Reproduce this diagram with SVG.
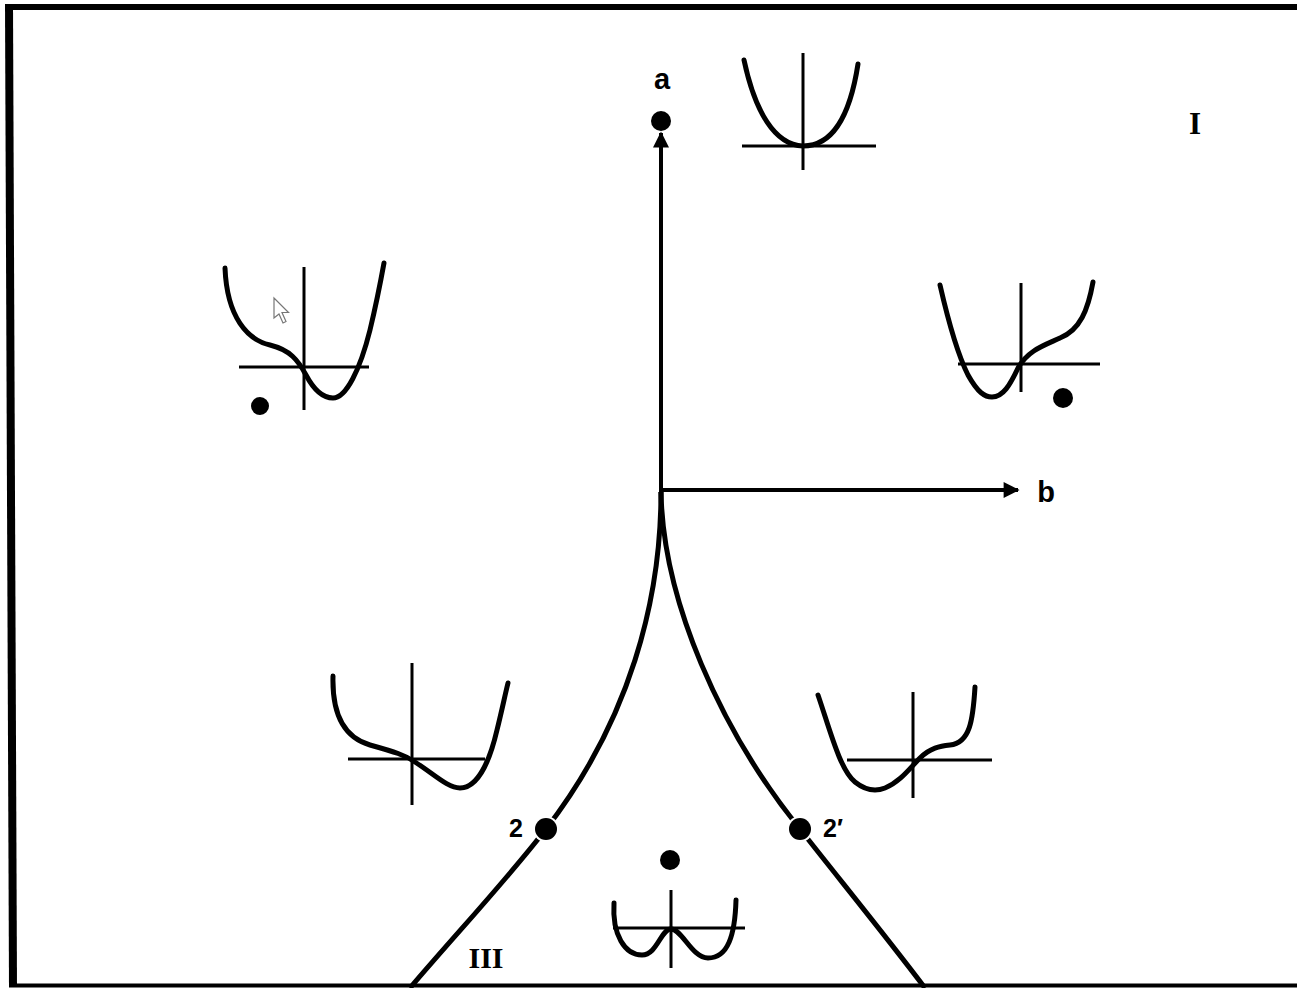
<svg xmlns="http://www.w3.org/2000/svg" width="1297" height="988" viewBox="0 0 1297 988">
<defs>
<style>
.ax{stroke:#000;stroke-width:3;fill:none;stroke-linecap:butt}
.cv{stroke:#000;stroke-width:5;fill:none;stroke-linecap:round;stroke-linejoin:round}
.main{stroke:#000;stroke-width:4;fill:none}
.cusp{stroke:#000;stroke-width:5;fill:none}
.dot{fill:#000}
.lbl{font-family:"Liberation Sans",Arial,sans-serif;font-weight:bold;fill:#000}
.rom{font-family:"Liberation Serif","Times New Roman",serif;font-weight:bold;fill:#000}
</style>
<marker id="arr" viewBox="0 0 10 10" refX="9" refY="5" markerWidth="4.2" markerHeight="4" orient="auto" markerUnits="strokeWidth">
<path d="M0,0 L10,5 L0,10 Z" fill="#000"/>
</marker>
</defs>
<rect width="1297" height="988" fill="#fff"/>
<g id="frame" fill="none" stroke="#000">
<line x1="9" y1="4" x2="13" y2="987" stroke-width="8"/>
<line x1="5" y1="7" x2="1297" y2="7" stroke-width="6"/>
<line x1="9" y1="985.5" x2="1297" y2="985.5" stroke-width="4"/>
</g>
<g id="connectors">
<line class="main" x1="661" y1="492" x2="661" y2="133" marker-end="url(#arr)"/>
<line class="main" x1="659" y1="490" x2="1018" y2="490" marker-end="url(#arr)"/>
<path id="cusp-left" class="cusp" d="M661,492 C661,600 630,720 546,829 C505,882 455,935 410,988"/>
<path id="cusp-right" class="cusp" d="M661,492 C663,600 720,730 800,829 C840,880 885,935 925,988"/>
</g>
<g id="node-a">
<circle class="dot" cx="661" cy="121" r="10"/>
<text class="lbl" x="662" y="89" font-size="29" text-anchor="middle">a</text>
</g>
<g id="node-b">
<text class="lbl" x="1046" y="502" font-size="29" text-anchor="middle">b</text>
</g>
<g id="label-I">
<text class="rom" x="1195" y="134" font-size="31" text-anchor="middle">I</text>
</g>
<g id="label-III">
<text class="rom" x="486" y="968" font-size="30" text-anchor="middle">III</text>
</g>
<g id="graph-top">
<line class="ax" x1="803" y1="53" x2="803" y2="170"/>
<line class="ax" x1="742" y1="146" x2="876" y2="146"/>
<path class="cv" d="M744,60 C755,112 775,145 803,146 C832,146 850,116 858,64"/>
</g>
<g id="graph-upper-left">
<line class="ax" x1="304" y1="267" x2="304" y2="410"/>
<line class="ax" x1="239" y1="367" x2="369" y2="367"/>
<path class="cv" d="M225,268 C227,318 248,340 270,345 C290,350 298,360 306,375 C315,392 324,398 333,398 C346,398 360,370 370,330 C376,305 380,285 384,263"/>
<circle class="dot" cx="260" cy="406" r="9"/>
<path d="M274,298 L274,318 L279,314 L283,323 L286,321.5 L282,312.5 L288.5,312.5 Z" fill="#fff" stroke="#777" stroke-width="1.2"/>
</g>
<g id="graph-upper-right">
<line class="ax" x1="1021" y1="283" x2="1021" y2="392"/>
<line class="ax" x1="958" y1="364" x2="1100" y2="364"/>
<path class="cv" d="M940,285 C948,320 958,355 968,375 C978,393 985,397 992,397 C1003,397 1010,385 1018,368 C1028,350 1045,345 1060,338 C1080,330 1088,310 1093,282"/>
<circle class="dot" cx="1063" cy="398" r="10"/>
</g>
<g id="graph-lower-left">
<line class="ax" x1="412" y1="663" x2="412" y2="805"/>
<line class="ax" x1="348" y1="759" x2="485" y2="759"/>
<path class="cv" d="M333,676 C332,712 342,737 370,745 C395,752 405,755 415,762 C435,775 448,788 460,788 C478,788 490,760 497,730 C502,710 505,695 508,683"/>
</g>
<g id="graph-lower-right">
<line class="ax" x1="913" y1="692" x2="913" y2="798"/>
<line class="ax" x1="847" y1="760" x2="992" y2="760"/>
<path class="cv" d="M818,695 C830,730 840,770 855,782 C865,790 875,792 885,788 C900,782 910,768 920,758 C930,748 940,746 950,745 C970,743 973,720 975,687"/>
</g>
<g id="graph-bottom">
<line class="ax" x1="671" y1="890" x2="671" y2="968"/>
<line class="ax" x1="613" y1="928" x2="745" y2="928"/>
<path class="cv" d="M614,903 C612,935 625,955 642,955 C657,955 661,929 671,929 C682,929 692,958 708,958 C728,958 735,935 736,900"/>
<circle class="dot" cx="670" cy="860" r="10"/>
</g>
<g id="node-2">
<circle cx="546" cy="829" r="13" fill="#fff"/>
<circle class="dot" cx="546" cy="829" r="11"/>
<text class="lbl" x="516" y="837" font-size="25" text-anchor="middle">2</text>
</g>
<g id="node-2prime">
<circle cx="800" cy="829" r="13" fill="#fff"/>
<circle class="dot" cx="800" cy="829" r="11"/>
<text class="lbl" x="833" y="837" font-size="25" text-anchor="middle">2′</text>
</g>
</svg>
